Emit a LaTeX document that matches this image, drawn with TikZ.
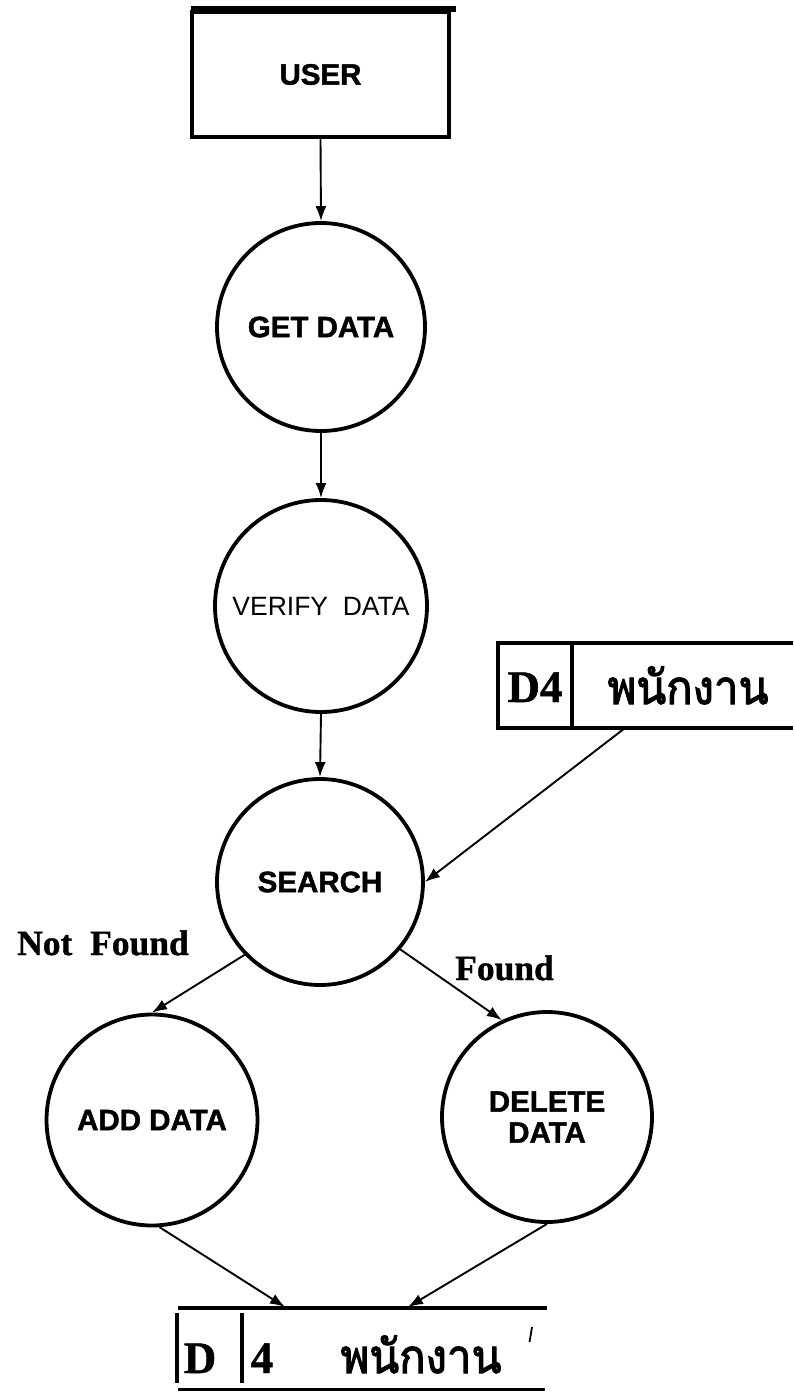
\documentclass[tikz,border=0pt]{standalone}
\usepackage{fontspec}
\setmainfont{Liberation Serif}[BoldFeatures={FakeBold=1}]
\newfontfamily\sansf{Liberation Sans}[BoldFeatures={FakeBold=1.5}]
\newfontfamily\thaif[Script=Thai,FakeBold=2.5]{Loma}
\usetikzlibrary{arrows.meta}
\begin{document}
\begin{tikzpicture}[x=1pt,y=-1pt,
  proc/.style={circle,draw,line width=3.8pt,inner sep=0pt},
  btxt/.style={font=\sansf\bfseries\fontsize{29.5}{32}\selectfont},
  flow/.style={line width=1.9pt,-{Latex[length=15pt,width=11pt]}},
  boxline/.style={line width=3.6pt},
  lbl/.style={font=\bfseries\fontsize{35.5}{38}\selectfont,inner sep=0pt},
  stxt/.style={font=\bfseries\fontsize{45}{48}\selectfont,inner sep=0pt,anchor=base},
  ttxt/.style={font=\thaif\fontsize{47}{50}\selectfont,inner sep=0pt,anchor=base,text depth=0pt}]
\useasboundingbox (0,0) rectangle (793,1392);
% USER external entity
\draw[line width=5.5pt] (191,9) -- (456,9);
\node[draw,line width=3.6pt,minimum width=257pt,minimum height=125pt,inner sep=0pt,btxt] (user) at (320.5,74.5) {USER};
% processes
\node[proc,minimum size=208pt,btxt] (get) at (321,327) {GET DATA};
\node[proc,minimum size=212pt,font=\sansf\fontsize{26.5}{30}\selectfont] (verify) at (321,606) {VERIFY\ \ DATA};
\node[proc,minimum size=206pt,btxt] (search) at (320,882) {SEARCH};
\node[proc,minimum size=211pt,btxt] (add) at (152,1120) {ADD DATA};
\node[proc,minimum size=210pt,btxt,align=center] (del) at (547,1117) {DELETE\\[-1pt]DATA};
% data store D4 (top)
\draw[boxline] (793,643) -- (498,643) -- (498,728) -- (793,728);
\draw[boxline] (572,643) -- (572,728);
\node[stxt] (d4id) at (535,702) {D4};
\node[ttxt] (d4name) at (688,704) {\scalebox{0.93}[1]{พนักงาน}};
\coordinate (d4out) at (625,728);
% data store D4 (bottom)
\draw[boxline] (178,1308) -- (547,1308);
\draw[boxline] (178,1389.5) -- (545,1389.5);
\draw[boxline] (177,1313) -- (177,1383);
\draw[boxline] (242,1313) -- (242,1383);
\node[stxt] (sd) at (200,1373) {D};
\node[stxt] (s4) at (262,1373) {4};
\node[ttxt] (sname) at (421,1373) {\scalebox{0.93}[1]{พนักงาน}};
\draw[line width=1.8pt] (532,1327) -- (529.5,1342);
\coordinate (sin1) at (285,1307);
\coordinate (sin2) at (408,1307);
% flows
\draw[flow] (user.south) -- (get.north);
\draw[flow] (get.south) -- (verify.north);
\draw[flow] (verify.south) -- (search.north);
\draw[flow] (d4out) -- (search.east);
\draw[flow] (search.224) -- (add.90);
\draw[flow] (search.-40) -- (del.115);
\draw[flow] (add.-86) -- (sin1);
\draw[flow] (del.-90) -- (sin2);
% labels
\node[lbl,anchor=base west] (nf) at (17,955) {Not\ \ Found};
\node[lbl,anchor=base west] (fd) at (455,980) {Found};
\end{tikzpicture}
\end{document}
